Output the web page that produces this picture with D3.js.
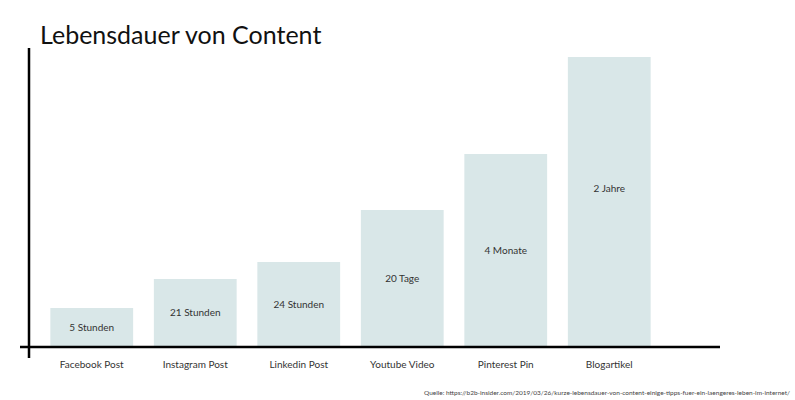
<!DOCTYPE html>
<html><head><meta charset="utf-8">
<script src="https://cdn.jsdelivr.net/npm/d3@7"></script>
<style>body{margin:0;background:#fff}svg{font-family:Lato,"Open Sans",sans-serif}</style>
</head><body><svg id="c" width="795" height="400"></svg>
<script>
const categories = ["Facebook Post","Instagram Post","Linkedin Post","Youtube Video","Pinterest Pin","Blogartikel"];
const values = [38, 67, 84, 136, 192, 289];
const valueLabels = ["5 Stunden","21 Stunden","24 Stunden","20 Tage","4 Monate","2 Jahre"];

const svg = d3.select("#c");
const baseY = 346;
const x = d3.scaleBand().domain(categories).range([40, 661]).paddingInner(0.2).paddingOuter(0.1);
const y = d3.scaleLinear().domain([0, 289]).range([baseY, 57]);

svg.append("text").attr("x", 40).attr("y", 44).attr("font-size", 25).attr("fill", "#111")
  .text("Lebensdauer von Content");

const g = svg.append("g");
g.selectAll("rect").data(values).join("rect")
  .attr("x", (d, i) => x(categories[i])).attr("width", x.bandwidth())
  .attr("y", d => y(d)).attr("height", d => baseY - y(d)).attr("fill", "#d9e7e8");

g.selectAll("text.v").data(values).join("text").attr("class", "v")
  .attr("x", (d, i) => x(categories[i]) + x.bandwidth() / 2)
  .attr("y", d => y(d) + Math.min((baseY - y(d)) / 2, 131))
  .attr("dy", "0.35em").attr("text-anchor", "middle").attr("font-size", 10).attr("fill", "#333")
  .text((d, i) => valueLabels[i]);

const xAxis = svg.append("g").attr("transform", `translate(0,${baseY + 1})`)
  .call(d3.axisBottom(x).tickSize(0).tickPadding(14));
xAxis.select(".domain").remove();
xAxis.selectAll("text").attr("font-size", 10).attr("fill", "#333").attr("font-family", "Lato,sans-serif");

svg.append("line").attr("x1", 20).attr("x2", 720).attr("y1", baseY + 1).attr("y2", baseY + 1)
  .attr("stroke", "#000").attr("stroke-width", 2.5);
svg.append("line").attr("x1", 29).attr("x2", 29).attr("y1", 48).attr("y2", 358)
  .attr("stroke", "#000").attr("stroke-width", 2.5);

svg.append("text").attr("x", 790).attr("y", 395).attr("text-anchor", "end").attr("font-size", 6.5).attr("fill", "#444")
  .text("Quelle: https://b2b-insider.com/2019/03/26/kurze-lebensdauer-von-content-einige-tipps-fuer-ein-laengeres-leben-im-internet/");
</script></body></html>
